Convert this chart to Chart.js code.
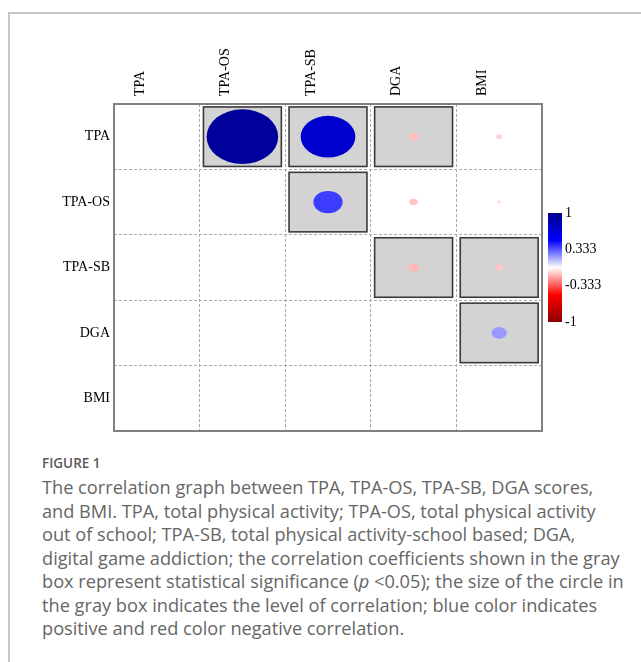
<!DOCTYPE html>
<html>
<head>
<meta charset="utf-8">
<script src="https://cdn.jsdelivr.net/npm/chart.js@4.4.0/dist/chart.umd.min.js"></script>
<style>
  body { margin: 0; background: #fff; width: 641px; height: 662px; overflow: hidden; position: relative; }
  #card { position: absolute; left: 8px; top: 12px; width: 700px; height: 700px;
          border-left: 2px solid #c6c6c6; border-top: 2px solid #c6c6c6; }
  #myChart { position: absolute; left: 0; top: 0; }
  #cap { position: absolute; left: 42px; top: 454px; font-family: "Open Sans", sans-serif; color: #555; }
  #cap .fig { font-size: 13.5px; font-weight: 600; color: #5a5a5a; margin-bottom: 4px; }
  #cap .txt { font-size: 18.2px; line-height: 23.5px; white-space: nowrap; color: #666; }
</style>
</head>
<body>
<div id="card"></div>
<canvas id="myChart" width="641" height="445"></canvas>
<div id="cap">
  <div class="fig">FIGURE 1</div>
  <div class="txt">The correlation graph between TPA, TPA-OS, TPA-SB, DGA scores,<br>and BMI. TPA, total physical activity; TPA-OS, total physical activity<br>out of school; TPA-SB, total physical activity-school based; DGA,<br>digital game addiction; the correlation coefficients shown in the gray<br>box represent statistical significance (<i>p</i> &lt;0.05); the size of the circle in<br>the gray box indicates the level of correlation; blue color indicates<br>positive and red color negative correlation.</div>
</div>
<script>
// variables (rows top to bottom, columns left to right)
var variables = ["TPA", "TPA-OS", "TPA-SB", "DGA", "BMI"];

// upper triangle pairs
var pairRow = ["TPA", "TPA", "TPA", "TPA", "TPA-OS", "TPA-OS", "TPA-OS", "TPA-SB", "TPA-SB", "DGA"];
var pairCol = ["TPA-OS", "TPA-SB", "DGA", "BMI", "TPA-SB", "DGA", "BMI", "DGA", "BMI", "BMI"];
var corr = [0.93, 0.71, -0.13, -0.08, 0.38, -0.11, -0.06, -0.14, -0.11, 0.20];
var significant = [true, true, true, false, true, false, false, true, true, true];

// colour bar ticks
var barTicks = [1, 0.333, -0.333, -1];

var rampStops = [[-1, [139, 0, 0]], [-0.5, [255, 0, 0]], [0, [255, 255, 255]], [0.5, [0, 0, 255]], [1, [0, 0, 139]]];

function corrColor(r) {
  for (var i = 0; i < rampStops.length - 1; i++) {
    var a = rampStops[i], b = rampStops[i + 1];
    if (r >= a[0] && r <= b[0]) {
      var t = (r - a[0]) / (b[0] - a[0]);
      var c = a[1].map(function(v, k) { return Math.round(v + (b[1][k] - v) * t); });
      return "rgb(" + c.join(",") + ")";
    }
  }
  return "#fff";
}

var corrPlot = {
  id: "corrPlot",
  beforeDatasetsDraw: function(chart) {
    var ctx = chart.ctx, a = chart.chartArea;
    var x = chart.scales.x, y = chart.scales.y;
    var cw = x.getPixelForValue(1) - x.getPixelForValue(0);
    var ch = y.getPixelForValue(1) - y.getPixelForValue(0);
    var meta = chart.getDatasetMeta(0);
    ctx.save();
    meta.data.forEach(function(pt, i) {
      if (!significant[i]) return;
      var w = cw * 0.91, h = ch * 0.91;
      ctx.fillStyle = "#d3d3d3";
      ctx.fillRect(pt.x - w / 2, pt.y - h / 2, w, h);
      ctx.lineWidth = 1.6;
      ctx.strokeStyle = "#3a3a3a";
      ctx.strokeRect(pt.x - w / 2, pt.y - h / 2, w, h);
    });
    ctx.lineWidth = 2;
    ctx.strokeStyle = "#808080";
    ctx.strokeRect(a.left, a.top, a.right - a.left, a.bottom - a.top);
    ctx.restore();
  },
  afterDatasetsDraw: function(chart) {
    var ctx = chart.ctx, a = chart.chartArea;
    var x = chart.scales.x, y = chart.scales.y;
    var cw = x.getPixelForValue(1) - x.getPixelForValue(0);
    var ch = y.getPixelForValue(1) - y.getPixelForValue(0);
    var meta = chart.getDatasetMeta(0);
    ctx.save();
    meta.data.forEach(function(pt, i) {
      var r = corr[i];
      ctx.beginPath();
      ctx.ellipse(pt.x, pt.y, 0.45 * Math.abs(r) * cw, 0.45 * Math.abs(r) * ch, 0, 0, 2 * Math.PI);
      ctx.fillStyle = corrColor(r);
      ctx.fill();
    });

    // colour bar
    var h = (a.bottom - a.top) / 3;
    var top = (a.top + a.bottom) / 2 - h / 2;
    var left = a.right + 6, bw = 14;
    var g = ctx.createLinearGradient(0, top, 0, top + h);
    rampStops.slice().reverse().forEach(function(s) {
      g.addColorStop((1 - s[0]) / 2, "rgb(" + s[1].join(",") + ")");
    });
    ctx.fillStyle = g;
    ctx.fillRect(left, top, bw, h);
    ctx.fillStyle = "#000";
    ctx.font = "14px 'Liberation Serif', serif";
    ctx.textBaseline = "middle";
    ctx.textAlign = "left";
    barTicks.forEach(function(v) {
      ctx.fillText(String(v), left + bw + 3, top + (1 - v) / 2 * h);
    });
    ctx.restore();
  }
};

var points = pairRow.map(function(r, i) {
  return { x: pairCol[i], y: r, r: 0, v: corr[i] };
});

var canvas = document.getElementById("myChart");
var myNewChart = new Chart(canvas.getContext("2d"), {
  type: "bubble",
  data: {
    datasets: [{
      data: points,
      backgroundColor: "rgba(0,0,0,0)",
      borderWidth: 0,
      hoverRadius: 0
    }]
  },
  options: {
    responsive: false,
    devicePixelRatio: 1,
    animation: false,
    layout: { padding: { left: 10, top: 6, right: 99, bottom: 14 } },
    plugins: {
      legend: { display: false },
      tooltip: {
        callbacks: {
          label: function(c) { return c.raw.y + " / " + c.raw.x + ": " + c.raw.v; }
        }
      }
    },
    scales: {
      x: {
        type: "category",
        labels: variables,
        position: "top",
        offset: true,
        grid: { offset: true, color: "#aaaaaa", drawTicks: false },
        border: { display: false, dash: [3, 2] },
        ticks: {
          minRotation: 90, maxRotation: 90, padding: 8, color: "#000",
          font: { family: "'Liberation Serif', serif", size: 14 }
        },
        afterFit: function(s) { s.height = 98; }
      },
      y: {
        type: "category",
        labels: variables,
        offset: true,
        grid: { offset: true, color: "#aaaaaa", drawTicks: false },
        border: { display: false, dash: [3, 2] },
        ticks: {
          padding: 4, color: "#000",
          font: { family: "'Liberation Serif', serif", size: 14 }
        },
        afterFit: function(s) { s.width = 104; }
      }
    }
  },
  plugins: [corrPlot]
});
</script>
</body>
</html>
